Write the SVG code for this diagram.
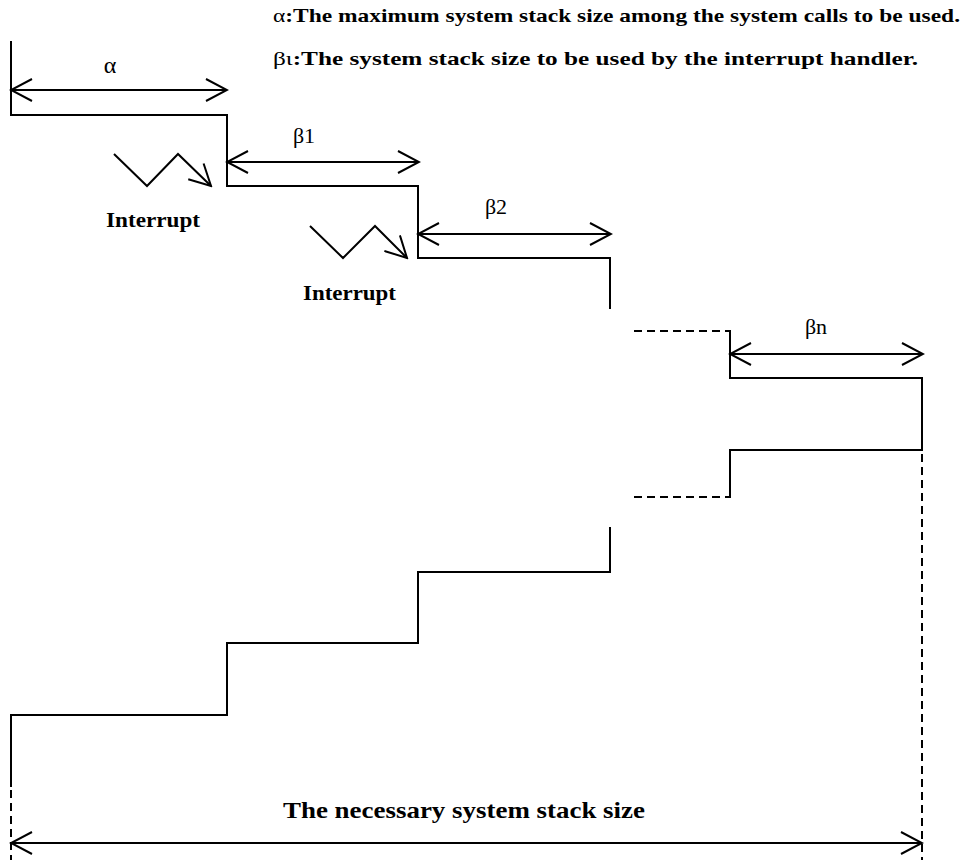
<svg xmlns="http://www.w3.org/2000/svg" width="970" height="860" viewBox="0 0 970 860">
<style>
.ln{fill:none;stroke:#000;stroke-width:2;stroke-linecap:square;stroke-linejoin:miter}
.ds{fill:none;stroke:#000;stroke-width:2;stroke-dasharray:8,5}
.ar{fill:none;stroke:#000;stroke-width:2}
.t{font-family:"Liberation Serif","DejaVu Serif",serif;fill:#000}
.b{font-weight:bold}
</style>
<defs>
<marker id="ah" viewBox="-22 -12 24 24" markerWidth="24" markerHeight="24" refX="0" refY="0" orient="auto-start-reverse" markerUnits="userSpaceOnUse">
<path d="M-21,-11 L0,0 L-21,11" fill="none" stroke="#000" stroke-width="2"/>
</marker>
</defs>
<rect width="970" height="860" fill="#fff"/>
<g id="legend">
<text class="t b" x="273" y="22" font-size="19" textLength="687" lengthAdjust="spacingAndGlyphs"><tspan font-weight="normal">α</tspan>:The maximum system stack size among the system calls to be used.</text>
<text class="t b" x="273" y="65" font-size="19" textLength="645" lengthAdjust="spacingAndGlyphs"><tspan font-weight="normal">βι</tspan>:The system stack size to be used by the interrupt handler.</text>
</g>
<g id="upper-stairs">
<polyline class="ln" points="11,42 11,115 227,115 227,186 418,186 418,258 610,258 610,308"/>
</g>
<g id="right-block">
<line class="ds" x1="634" y1="331" x2="730" y2="331"/>
<polyline class="ln" points="730,331 730,378 922,378 922,450 730,450 730,497"/>
<line class="ds" x1="634" y1="497" x2="730" y2="497"/>
</g>
<g id="lower-stairs">
<polyline class="ln" points="610,528 610,572 418,572 418,643 227,643 227,715 11,715 11,786"/>
<line class="ds" x1="11" y1="790" x2="11" y2="860"/>
<line class="ds" x1="922" y1="454" x2="922" y2="860"/>
</g>
<g id="connectors">
<line class="ar" x1="11" y1="90" x2="227" y2="90" marker-start="url(#ah)" marker-end="url(#ah)"/>
<line class="ar" x1="227" y1="162" x2="419" y2="162" marker-start="url(#ah)" marker-end="url(#ah)"/>
<line class="ar" x1="418" y1="234" x2="611" y2="234" marker-start="url(#ah)" marker-end="url(#ah)"/>
<line class="ar" x1="730" y1="354" x2="923" y2="354" marker-start="url(#ah)" marker-end="url(#ah)"/>
<line class="ar" x1="11" y1="843" x2="922" y2="843" marker-start="url(#ah)" marker-end="url(#ah)"/>
<polyline class="ar" points="114,154 147,186 178,154 211,186" marker-end="url(#ah)"/>
<polyline class="ar" points="310,226 343,258 375,226 407,258" marker-end="url(#ah)"/>
</g>
<g id="labels">
<text class="t" x="110" y="73" font-size="24" text-anchor="middle">α</text>
<text class="t" x="304" y="143" font-size="22" text-anchor="middle">β1</text>
<text class="t" x="496" y="214" font-size="22" text-anchor="middle">β2</text>
<text class="t" x="816" y="334" font-size="22" text-anchor="middle">βn</text>
<text class="t b" x="106" y="227" font-size="20" textLength="94" lengthAdjust="spacingAndGlyphs">Interrupt</text>
<text class="t b" x="303" y="300" font-size="20" textLength="93" lengthAdjust="spacingAndGlyphs">Interrupt</text>
<text class="t b" x="283" y="818" font-size="23" textLength="362" lengthAdjust="spacingAndGlyphs">The necessary system stack size</text>
</g>
</svg>
